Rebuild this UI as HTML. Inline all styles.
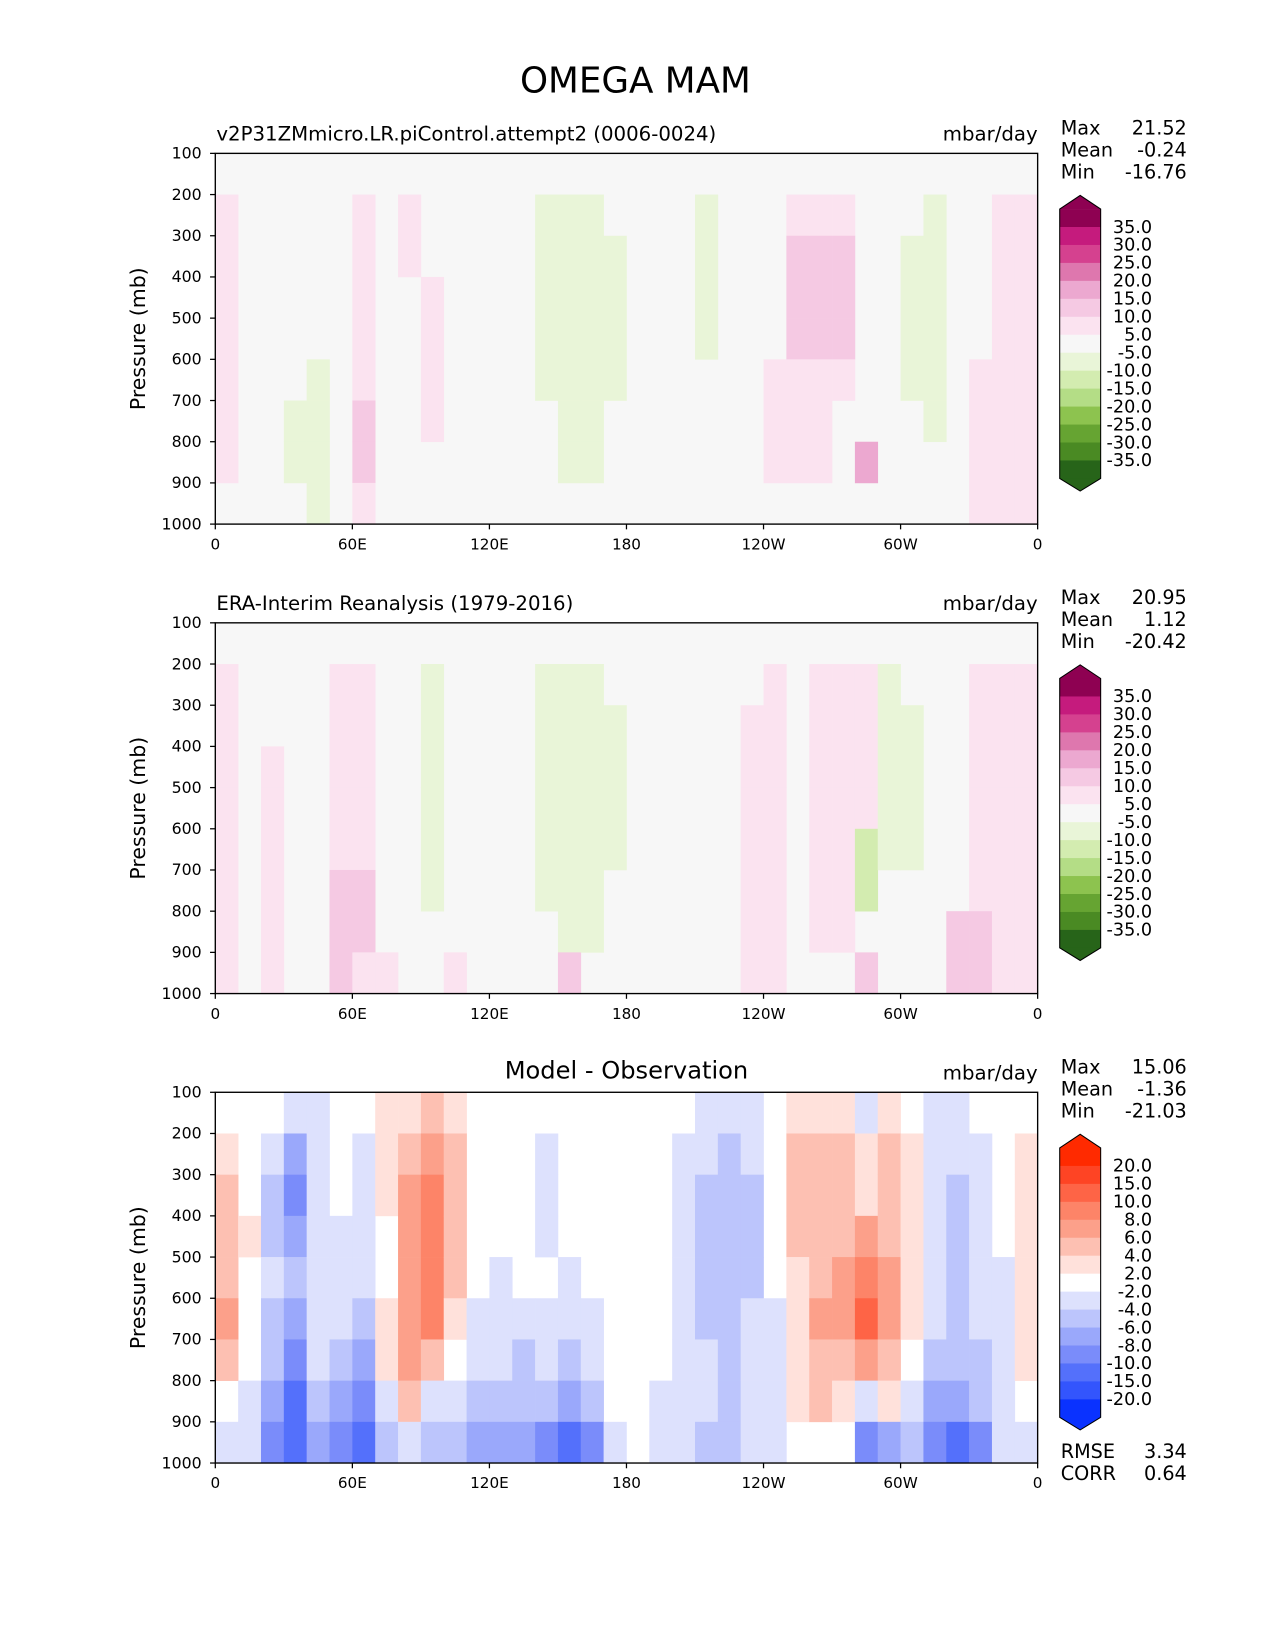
<!DOCTYPE html>
<html><head><meta charset="utf-8"><style>
html,body{margin:0;padding:0;background:#fff;}
svg{display:block;font-family:"DejaVu Sans","Liberation Sans",sans-serif;}
</style></head><body>
<svg id="fig" width="1275" height="1650" viewBox="0 0 1214 1571" xmlns="http://www.w3.org/2000/svg">
<rect width="1214" height="1571" fill="#fff"/>
<text x="605" y="88" font-size="34" text-anchor="middle" fill="#000">OMEGA MAM</text>
<g id="root"></g>
</svg>
<script>
// ---- data ----
const pressureLevels = [150,250,350,450,550,650,750,850,950];
const lonStep = 10;
const yTicks = [100,200,300,400,500,600,700,800,900,1000];
const xTicks = [0,60,120,180,240,300,360];
const xTickLabels = ["0","60E","120E","180","120W","60W","0"];
const titles = ["v2P31ZMmicro.LR.piControl.attempt2 (0006-0024)","ERA-Interim Reanalysis (1979-2016)","Model - Observation"];
const statMax = ["21.52","20.95","15.06"];
const statMean = ["-0.24","1.12","-1.36"];
const statMin = ["-16.76","-20.42","-21.03"];
const rmse = "3.34", corr = "0.64";
const levelsA = [35,30,25,20,15,10,5,-5,-10,-15,-20,-25,-30,-35];
const levelsD = [20,15,10,8,6,4,2,-2,-4,-6,-8,-10,-15,-20];
const colorsA = ["#8e0152","#c51b7d","#d5418f","#de77ae","#eca8d0","#f5c9e3","#fbe3f0","#f7f7f7","#e9f5d8","#d3ecb0","#b4dd86","#8dc34f","#66a432","#4a8a23","#276419"];
const colorsD = ["#ff2a00","#fe4424","#fe6446","#fd8468","#fca08a","#fdc0b2","#ffe1db","#ffffff","#dde1fd","#bcc5fc","#9aa8fb","#7a8cfa","#5470fb","#3355fd","#0a32ff"];
// each inner array = one 10-degree longitude column, values at pressureLevels
const modelField = [
[0,7,7,7,7,7,7,7,3],[0,0,0,0,0,0,0,0,0],[0,0,0,0,0,0,0,0,0],[0,0,0,0,0,0,-6,-6,0],
[0,0,0,0,0,-7,-7,-7,-7],[0,0,0,0,0,0,0,0,0],[0,7,7,7,7,7,12,12,7],[0,0,0,0,0,0,0,0,0],
[0,7,7,0,0,0,0,0,0],[0,0,0,6,6,6,6,0,0],[0,0,0,0,0,0,0,0,0],[0,0,0,0,0,0,0,0,0],
[0,0,0,0,0,0,0,0,0],[0,0,0,0,0,0,0,0,0],[0,-7,-7,-7,-7,-7,0,0,0],[0,-7,-7,-7,-7,-7,-7,-7,0],
[0,-7,-7,-7,-7,-7,-7,-7,0],[0,0,-7,-7,-7,-7,0,0,0],[0,0,0,0,0,0,0,0,0],[0,0,0,0,0,0,0,0,0],
[0,0,0,0,0,0,0,0,0],[0,-7,-7,-7,-7,0,0,0,0],[0,0,0,0,0,0,0,0,0],[0,0,0,0,0,0,0,0,0],
[0,0,0,0,0,7,7,7,0],[0,7,12,12,12,7,7,7,0],[0,7,12,12,12,7,7,7,0],[0,7,12,12,12,7,0,0,0],
[0,0,0,0,0,0,0,15,0],[0,0,0,0,0,0,0,0,0],[0,0,-7,-7,-7,-7,0,0,0],[0,-7,-7,-7,-7,-7,-7,0,0],
[0,0,0,0,0,0,0,0,0],[0,0,0,0,0,7,7,7,7],[0,7,7,7,7,7,7,7,7],[0,7,7,7,7,7,7,7,7]
];
const obsField = [
[0,7,7,7,7,7,7,7,7],[0,0,0,0,0,0,0,0,0],[0,0,0,7,7,7,7,7,7],[0,0,0,0,0,0,0,0,0],
[0,0,0,0,0,0,0,0,0],[0,7,7,7,7,7,12,12,12],[0,7,7,7,7,7,12,12,7],[0,0,0,0,0,0,0,0,7],
[0,0,0,0,0,0,0,0,0],[0,-6,-6,-6,-6,-6,-6,0,0],[0,0,0,0,0,0,0,0,7],[0,0,0,0,0,0,0,0,0],
[0,0,0,0,0,0,0,0,0],[0,0,0,0,0,0,0,0,0],[0,-7,-7,-7,-7,-7,-7,0,0],[0,-7,-7,-7,-7,-7,-7,-7,12],
[0,-7,-7,-7,-7,-7,-7,-7,0],[0,0,-7,-7,-7,-7,0,0,0],[0,0,0,0,0,0,0,0,0],[0,0,0,0,0,0,0,0,0],
[0,0,0,0,0,0,0,0,0],[0,0,0,0,0,0,0,0,0],[0,0,0,0,0,0,0,0,0],[0,0,7,7,7,7,7,7,7],
[0,7,7,7,7,7,7,7,7],[0,0,0,0,0,0,0,0,0],[0,7,7,7,7,7,7,7,0],[0,7,7,7,7,7,7,7,0],
[0,7,7,7,7,-12,-12,0,12],[0,-7,-7,-7,-7,-7,0,0,0],[0,0,-6,-6,-6,-6,0,0,0],[0,0,0,0,0,0,0,0,0],
[0,0,0,0,0,0,0,12,12],[0,7,7,7,7,7,7,12,12],[0,7,7,7,7,7,7,7,7],[0,7,7,7,7,7,7,7,7]
];
const diffField = [
[0,3,4,4,5,6,4,0,-3],[0,0,0,3,0,0,0,-3,-4],[0,-3,-5,-5,-4,-5,-6,-8,-10],[-3,-7,-9,-8,-6,-8,-10,-12,-12],
[-3,-3,-3,-3,-3,-4,-4,-6,-8],[0,0,0,-3,-3,-4,-5,-7,-9],[0,-3,-3,-3,-3,-5,-7,-9,-11],[3,3,3,0,0,3,3,-4,-6],
[3,5,6,7,6,7,7,4,-3],[4,7,9,9,9,8,5,-3,-5],[3,4,4,5,5,3,0,-4,-6],[0,0,0,0,0,-3,-4,-5,-7],
[0,0,0,0,-3,-3,-4,-6,-8],[0,0,0,0,0,-3,-5,-6,-8],[0,-3,-3,-3,0,-3,-4,-6,-10],[0,0,0,0,-3,-4,-5,-7,-12],
[0,0,0,0,0,-3,-4,-6,-9],[0,0,0,0,0,0,0,0,-3],[0,0,0,0,0,0,0,0,0],[0,0,0,0,0,0,0,-3,-3],
[0,-3,-3,-3,-3,-3,-3,-3,-4],[-3,-4,-5,-5,-5,-5,-4,-4,-5],[-3,-5,-5,-5,-5,-5,-5,-5,-5],[-3,-3,-5,-5,-5,-4,-4,-3,-4],
[0,0,0,0,0,-3,-3,-3,-3],[3,4,4,4,3,3,3,3,0],[3,4,5,5,5,6,5,4,0],[3,4,4,5,6,7,5,3,0],
[-3,3,3,6,8,10,6,-4,-10],[3,4,4,4,6,6,5,3,-8],[0,3,3,3,3,3,0,-3,-6],[-3,-3,-3,-3,-3,-4,-5,-7,-9],
[-3,-4,-5,-6,-5,-5,-6,-8,-12],[0,-3,-3,-4,-3,-4,-5,-6,-9],[0,0,0,0,-3,-3,-3,-3,-4],[0,3,3,3,3,3,3,0,-3]
];
const labelsA = ["35.0","30.0","25.0","20.0","15.0","10.0","5.0","-5.0","-10.0","-15.0","-20.0","-25.0","-30.0","-35.0"];
const labelsD = ["20.0","15.0","10.0","8.0","6.0","4.0","2.0","-2.0","-4.0","-6.0","-8.0","-10.0","-15.0","-20.0"];

// ---- drawing ----
const NS="http://www.w3.org/2000/svg";
const root=document.getElementById('root');
function mk(tag,attrs,parent,txt){const e=document.createElementNS(NS,tag);for(const k in attrs)e.setAttribute(k,attrs[k]);if(txt!==undefined)e.textContent=txt;(parent||root).appendChild(e);return e;}
const X0=205,X1=988,PH=353;
const offsets=[146,593,1040];
function xs(lon){return X0+(lon/360)*(X1-X0);}
function ys(p,top){return top+((p-100)/900)*PH;}
function bin(v,levels){let i=0;for(const l of levels){if(v<l)i++;}return i;}
const fields=[modelField,obsField,diffField];
for(let k=0;k<3;k++){
  const top=offsets[k];
  const levels=k<2?levelsA:levelsD, colors=k<2?colorsA:colorsD;
  const g=mk('g',{});
  
  
  const bg=mk('rect',{x:X0,y:top,width:X1-X0,height:PH,fill:k<2?'#f7f7f7':'#ffffff'},g);
  
  
  const f=fields[k];
  for(let c=0;c<f.length;c++){
    for(let r=0;r<pressureLevels.length;r++){
      const v=f[c][r]; const idx=bin(v,levels);
      if(idx===7) continue;
      const p=pressureLevels[r];
      const y0=Math.max(ys(p-50,top),top), y1=Math.min(ys(p+50,top),top+PH);
      const cell=mk('rect',{x:xs(c*lonStep),y:y0,width:xs((c+1)*lonStep)-xs(c*lonStep)+0.3,height:y1-y0+0.3,fill:colors[idx]},g);
      
      
    }
  }
  const fr=mk('rect',{x:X0,y:top,width:X1-X0,height:PH,fill:'none',stroke:'#000','stroke-width':1.3},g);
  
  
  yTicks.forEach(t=>{const y=ys(t,top);
    mk('line',{x1:X0-5,x2:X0,y1:y,y2:y,stroke:'#000','stroke-width':1.2},g);
    const tl=mk('text',{x:X0-13,y:y+5,'font-size':15,'text-anchor':'end'},g,String(t));
    
    });
  xTicks.forEach((t,i)=>{const x=xs(t);
    mk('line',{x1:x,x2:x,y1:top+PH,y2:top+PH+5,stroke:'#000','stroke-width':1.2},g);
    const tl=mk('text',{x:x,y:top+PH+24,'font-size':14.5,'text-anchor':'middle'},g,xTickLabels[i]);
    
    });
  const yl=mk('text',{x:0,y:0,'font-size':19.5,'text-anchor':'middle',transform:`translate(138,${top+PH/2}) rotate(-90)`},g,'Pressure (mb)');
  
  
  const tt=k<2?mk('text',{x:X0+1,y:top-12,'font-size':18.8},g,titles[k]):mk('text',{x:(X0+X1)/2,y:top-13,'font-size':23,'text-anchor':'middle'},g,titles[k]);
  
  
  const un=mk('text',{x:X1,y:top-12,'font-size':18.8,'text-anchor':'end'},g,'mbar/day');
  
  
  [['Max',statMax[k]],['Mean',statMean[k]],['Min',statMin[k]]].forEach((s,i)=>{
    const a=mk('text',{x:1010,y:top-18+i*21,'font-size':18.3},g,s[0]);
    
    
    const b=mk('text',{x:1130,y:top-18+i*21,'font-size':18.3,'text-anchor':'end'},g,s[1]);
    
    
  });
  // colorbar
  const cb=mk('g',{},g);
  
  
  const cx0=1009,cx1=1048,cTop=top+53,bh=17.1;
  mk('polygon',{points:`${cx0},${cTop} ${(cx0+cx1)/2},${cTop-13} ${cx1},${cTop}`,fill:colors[0]},cb);
  colors.forEach((col,i)=>mk('rect',{x:cx0,y:cTop+i*bh,width:cx1-cx0,height:bh+0.4,fill:col},cb));
  const cBot=cTop+15*bh;
  mk('polygon',{points:`${cx0},${cBot} ${(cx0+cx1)/2},${cBot+12} ${cx1},${cBot}`,fill:colors[14]},cb);
  mk('polygon',{points:`${cx0},${cTop} ${(cx0+cx1)/2},${cTop-13} ${cx1},${cTop} ${cx1},${cBot} ${(cx0+cx1)/2},${cBot+12} ${cx0},${cBot}`,fill:'none',stroke:'#000','stroke-width':1},cb);
  const labs=k<2?labelsA:labelsD;
  labs.forEach((l,i)=>{const t=mk('text',{x:1097,y:cTop+(i+1)*bh+5.5,'font-size':16.8,'text-anchor':'end'},cb,l);
    
    });
}
[['RMSE',rmse,1388],['CORR',corr,1409]].forEach(s=>{
  const a=mk('text',{x:1010,y:s[2],'font-size':18.3},root,s[0]);
  
  
  const b=mk('text',{x:1130,y:s[2],'font-size':18.3,'text-anchor':'end'},root,s[1]);
  
  
});
</script>
</body></html>
